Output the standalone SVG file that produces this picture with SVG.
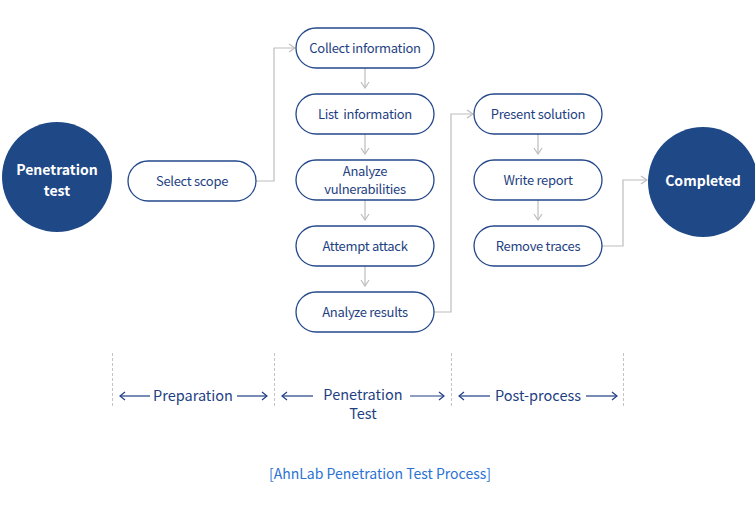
<svg xmlns="http://www.w3.org/2000/svg" width="755" height="510" viewBox="0 0 755 510">
<defs>
<style>
.node rect{fill:#fff;stroke:#23478a;stroke-width:1.3}
.node text{font-family:"Noto Sans CJK KR","Noto Sans",sans-serif;font-size:13px;fill:#1e3f82;text-anchor:middle;letter-spacing:-0.3px}
.circ circle{fill:#1f4887}
.circ text{font-family:"Noto Sans CJK KR","Noto Sans",sans-serif;font-size:14px;font-weight:bold;fill:#fff;text-anchor:middle}
.conn{fill:none;stroke:#bdbdbd;stroke-width:1.2}
.phase{fill:none;stroke:#1e3f82;stroke-width:1.2}
.dash{stroke:#c4c4c4;stroke-width:1;stroke-dasharray:3 2}
.lbl{font-family:"Noto Sans CJK KR","Noto Sans",sans-serif;font-size:14.5px;fill:#1e3f82;text-anchor:middle}
.cap{font-family:"Noto Sans CJK KR","Noto Sans",sans-serif;font-size:14px;fill:#2b73d3;text-anchor:middle}
</style>
<marker id="ah" viewBox="0 0 10 10" refX="9" refY="5" markerWidth="10" markerHeight="10" markerUnits="userSpaceOnUse" orient="auto">
<path d="M3,1 L9,5 L3,9" fill="none" stroke="#bdbdbd" stroke-width="1.2"/>
</marker>
<marker id="ph" viewBox="0 0 10 10" refX="9" refY="5" markerWidth="10" markerHeight="10" markerUnits="userSpaceOnUse" orient="auto">
<path d="M4,1 L9,5 L4,9" fill="none" stroke="#1e3f82" stroke-width="1.2"/>
</marker>
</defs>
<rect width="755" height="510" fill="#fff"/>

<g id="connectors">
<path class="conn" d="M256,181 H274 V48 H295" marker-end="url(#ah)"/>
<path class="conn" d="M365,68 V88" marker-end="url(#ah)"/>
<path class="conn" d="M365,134 V154" marker-end="url(#ah)"/>
<path class="conn" d="M365,200 V220" marker-end="url(#ah)"/>
<path class="conn" d="M365,266 V286" marker-end="url(#ah)"/>
<path class="conn" d="M434,312 H451 V114 H473" marker-end="url(#ah)"/>
<path class="conn" d="M538,134 V154" marker-end="url(#ah)"/>
<path class="conn" d="M538,200 V220" marker-end="url(#ah)"/>
<path class="conn" d="M602,246 H623 V180 H647" marker-end="url(#ah)"/>
</g>

<g id="n-start" class="circ"><circle cx="57" cy="177" r="55"/><text x="57" y="175">Penetration</text><text x="57" y="196">test</text></g>
<g id="n-scope" class="node"><rect x="128" y="161" width="128" height="40" rx="20"/><text x="192" y="186">Select scope</text></g>
<g id="n-collect" class="node"><rect x="296" y="28" width="138" height="40" rx="20"/><text x="365" y="53">Collect information</text></g>
<g id="n-list" class="node"><rect x="296" y="94" width="138" height="40" rx="20"/><text x="365" y="119" xml:space="preserve">List  information</text></g>
<g id="n-vuln" class="node"><rect x="296" y="160" width="138" height="40" rx="20"/><text x="365" y="176">Analyze</text><text x="365" y="194">vulnerabilities</text></g>
<g id="n-attack" class="node"><rect x="296" y="226" width="138" height="40" rx="20"/><text x="365" y="251">Attempt attack</text></g>
<g id="n-results" class="node"><rect x="296" y="292" width="138" height="40" rx="20"/><text x="365" y="317">Analyze results</text></g>
<g id="n-solution" class="node"><rect x="474" y="94" width="128" height="40" rx="20"/><text x="538" y="119">Present solution</text></g>
<g id="n-report" class="node"><rect x="474" y="160" width="128" height="40" rx="20"/><text x="538" y="185">Write report</text></g>
<g id="n-traces" class="node"><rect x="474" y="226" width="128" height="40" rx="20"/><text x="538" y="251">Remove traces</text></g>
<g id="n-done" class="circ"><circle cx="703" cy="182" r="55"/><text x="703" y="186">Completed</text></g>

<g id="phases">
<line class="dash" x1="112.5" y1="353" x2="112.5" y2="408"/>
<line class="dash" x1="274.5" y1="353" x2="274.5" y2="408"/>
<line class="dash" x1="451.5" y1="353" x2="451.5" y2="408"/>
<line class="dash" x1="623.5" y1="353" x2="623.5" y2="408"/>
<path class="phase" d="M150,396 H120" marker-end="url(#ph)"/>
<path class="phase" d="M237,396 H267" marker-end="url(#ph)"/>
<path class="phase" d="M313,396 H282" marker-end="url(#ph)"/>
<path class="phase" d="M410,396 H444" marker-end="url(#ph)"/>
<path class="phase" d="M490,396 H459" marker-end="url(#ph)"/>
<path class="phase" d="M586,396 H617" marker-end="url(#ph)"/>
<text class="lbl" x="193" y="401">Preparation</text>
<text class="lbl" x="363" y="400">Penetration</text>
<text class="lbl" x="363" y="419">Test</text>
<text class="lbl" x="538" y="401">Post-process</text>
</g>
<text class="cap" x="380" y="479">[AhnLab Penetration Test Process]</text>
</svg>
